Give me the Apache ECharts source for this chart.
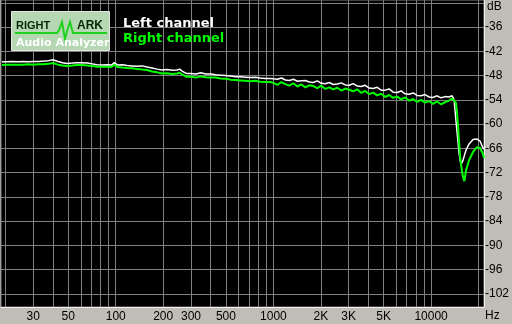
<!DOCTYPE html>
<html>
<head>
<meta charset="utf-8">
<script src="https://cdn.jsdelivr.net/npm/echarts@6/dist/echarts.min.js"></script>
<style>
html,body{margin:0;padding:0;background:#bfbdb6;}
#chart{width:512px;height:324px;}
</style>
</head>
<body>
<div id="chart"></div>
<script>
const freqs = [19,20.5,22,24,26,28,30,32.5,35,37.5,40,43,46,49,53,57,61,66,71,76,82,88,94,98,103,110,118,127,137,147,158,170,183,197,212,228,245,254,264,281,300,322,346,372,400,430,462,497,534,574,617,663,713,766,824,886,952,
1000,1060,1124,1191,1262,1338,1419,1504,1594,1689,1791,1898,2012,2133,2261,2397,2540,2693,2854,3026,3207,3400,3604,3820,4049,4292,4550,4823,5112,5419,5744,6089,6454,6841,7252,7687,8148,8637,9155,9705,10287,10904,11558,12252,12987,13580,
13800,14000,14190,14390,14610,14830,15040,15270,15490,15640,15720,15950,16250,16660,17410,18450,19550,20430,21340,21640];

const leftDb = [-44.6,-44.6,-44.5,-44.6,-44.5,-44.6,-44.5,-44.5,-44.4,-44.3,-44.1,-44.5,-44.8,-45.0,-44.9,-44.8,-44.8,-44.9,-45.1,-45.3,-45.4,-45.3,-45.4,-44.8,-45.4,-45.3,-45.5,-45.6,-45.7,-45.6,-45.9,-46.1,-46.4,-46.6,-46.5,-46.7,-46.6,-46.4,-46.9,-47.5,-47.5,-47.6,-47.3,-47.6,-47.6,-47.8,-47.9,-48.0,-48.1,-48.3,-48.3,-48.4,-48.5,-48.4,-48.6,-48.7,-48.7,
-48.8,-48.9,-48.6,-49.1,-49.2,-48.9,-49.4,-49.3,-49.2,-49.6,-49.7,-49.3,-49.9,-50.0,-49.7,-50.2,-50.1,-49.8,-50.3,-50.4,-50.0,-50.6,-50.7,-50.4,-51.1,-51.2,-50.9,-51.6,-51.6,-51.3,-52.1,-52.2,-51.8,-52.5,-52.6,-52.3,-52.9,-53.0,-52.7,-53.3,-53.4,-53.0,-53.5,-53.2,-53.3,-53.0,
-53.5,-54.1,-56.7,-59.3,-62.0,-64.6,-67.2,-68.9,-70.0,-70.4,-70.0,-68.9,-67.8,-66.4,-64.9,-63.8,-63.7,-64.2,-65.9,-66.2];

const rightDb = [-45.4,-45.3,-45.3,-45.3,-45.3,-45.2,-45.3,-45.2,-45.2,-45.1,-44.9,-45.3,-45.5,-45.6,-45.5,-45.4,-45.4,-45.5,-45.6,-45.8,-45.8,-45.8,-45.9,-45.3,-45.9,-46.0,-46.1,-46.2,-46.4,-46.5,-46.6,-47.0,-47.2,-47.5,-47.4,-47.6,-47.5,-47.3,-47.7,-48.3,-48.3,-48.5,-48.2,-48.4,-48.5,-48.5,-48.7,-48.8,-49.0,-49.1,-49.2,-49.3,-49.4,-49.3,-49.5,-49.6,-49.6,
-49.8,-50.3,-49.6,-50.1,-50.5,-49.9,-50.7,-50.2,-50.9,-50.4,-50.6,-51.1,-50.5,-51.3,-50.9,-51.4,-51.0,-51.7,-51.2,-51.5,-51.9,-51.4,-52.3,-51.8,-52.6,-52.2,-52.9,-52.5,-53.3,-52.8,-53.5,-53.2,-53.9,-53.4,-54.2,-53.8,-54.5,-54.0,-54.7,-54.3,-55.0,-54.4,-55.1,-54.6,-54.2,-53.7,
-53.8,-54.2,-54.5,-54.8,-57.3,-60.7,-64.4,-67.9,-70.1,-71.2,-71.8,-73.1,-74.1,-71.4,-68.9,-66.9,-65.7,-65.9,-67.4,-68.4];

const xGridValues = [20,30,40,50,60,70,80,90,100,200,300,400,500,600,700,800,900,1000,2000,3000,4000,5000,6000,7000,8000,9000,10000,20000];
const xLabelValues = [30,50,100,200,300,500,1000,2000,3000,5000,10000];
const xLabelText = {2000:'2K',3000:'3K',5000:'5K'};
const yGridValues = [-102,-96,-90,-84,-78,-72,-66,-60,-54,-48,-42,-36,-30];
const yLabelValues = [-102,-96,-90,-84,-78,-72,-66,-60,-54,-48,-42,-36];
const seriesNames = ['Left channel','Right channel'];

const chart = echarts.init(document.getElementById('chart'), null, {renderer:'canvas'});
const toPairs = arr => freqs.map((f,i)=>[f, arr[i]]);

chart.setOption({
  animation:false,
  backgroundColor:'#bfbdb6',
  grid:{left:1,right:27,top:0,bottom:17,show:true,backgroundColor:'#000',borderColor:'#808080',borderWidth:1},
  xAxis:{
    type:'log', logBase:10, min:18.72, max:21645,
    axisLine:{show:true,onZero:false,lineStyle:{color:'#f0f0f0',width:1}},
    axisTick:{show:false,customValues:xGridValues},
    splitLine:{show:true,lineStyle:{color:'#808080',width:1}},
    minorTick:{show:false}, minorSplitLine:{show:false},
    axisLabel:{customValues:xLabelValues,margin:4,color:'#000',fontSize:12,fontFamily:'Liberation Sans',
      formatter:v=>xLabelText[v]||String(v)}
  },
  yAxis:{
    type:'value', position:'right', min:-105.25, max:-29.3,
    axisLine:{show:true,lineStyle:{color:'#f0f0f0',width:1}},
    axisTick:{show:false,customValues:yGridValues},
    splitLine:{show:true,lineStyle:{color:'#808080',width:1}},
    axisLabel:{customValues:yLabelValues,margin:1,color:'#000',fontSize:12,fontFamily:'Liberation Sans',
      padding:[0,0,3,0],formatter:v=>String(v)}
  },
  legend:{
    orient:'vertical', left:113, top:12, itemWidth:0, itemHeight:0, itemGap:1, icon:'none',
    textStyle:{fontFamily:'DejaVu Sans',fontWeight:'bold',fontSize:13,lineHeight:14},
    data:[{name:seriesNames[0],textStyle:{color:'#ffffff'}},{name:seriesNames[1],textStyle:{color:'#00ff00'}}]
  },
  graphic:[
    {type:'rect',shape:{x:11.5,y:11.5,width:98,height:39},style:{fill:'#b5d8b2',stroke:'#e6e6e6',lineWidth:1},z:100},
    {type:'text',x:16,y:26,style:{text:'RIGHT',fill:'#0c260c',font:'bold 11px "Liberation Sans"',textVerticalAlign:'middle'},z:101},
    {type:'text',x:77,y:26,style:{text:'ARK',fill:'#0c260c',font:'bold 12px "Liberation Sans"',textVerticalAlign:'middle'},z:101},
    {type:'polyline',shape:{points:[[15,33],[57,33],[59,30],[62,22],[65,39],[67,31],[70,22],[73,33],[107,33]]},style:{stroke:'#1ed21e',lineWidth:2,fill:null},z:101},
    {type:'text',x:16,y:43.5,style:{text:'Audio Analyzer',fill:'#ffffff',font:'bold 11px "DejaVu Sans"',textVerticalAlign:'middle'},z:101},
    {type:'text',x:487,y:6.5,style:{text:'dB',fill:'#000',font:'12px "Liberation Sans"',textVerticalAlign:'middle'},z:101},
    {type:'text',x:485,y:316,style:{text:'Hz',fill:'#000',font:'12px "Liberation Sans"',textVerticalAlign:'middle'},z:101}
  ],
  series:[
    {name:seriesNames[0],type:'line',data:toPairs(leftDb),showSymbol:false,symbol:'none',lineStyle:{color:'#ffffff',width:1.5},itemStyle:{color:'#ffffff'},clip:true},
    {name:seriesNames[1],type:'line',data:toPairs(rightDb),showSymbol:false,symbol:'none',lineStyle:{color:'#00ff00',width:2},itemStyle:{color:'#00ff00'},clip:true}
  ]
});
</script>
</body>
</html>
